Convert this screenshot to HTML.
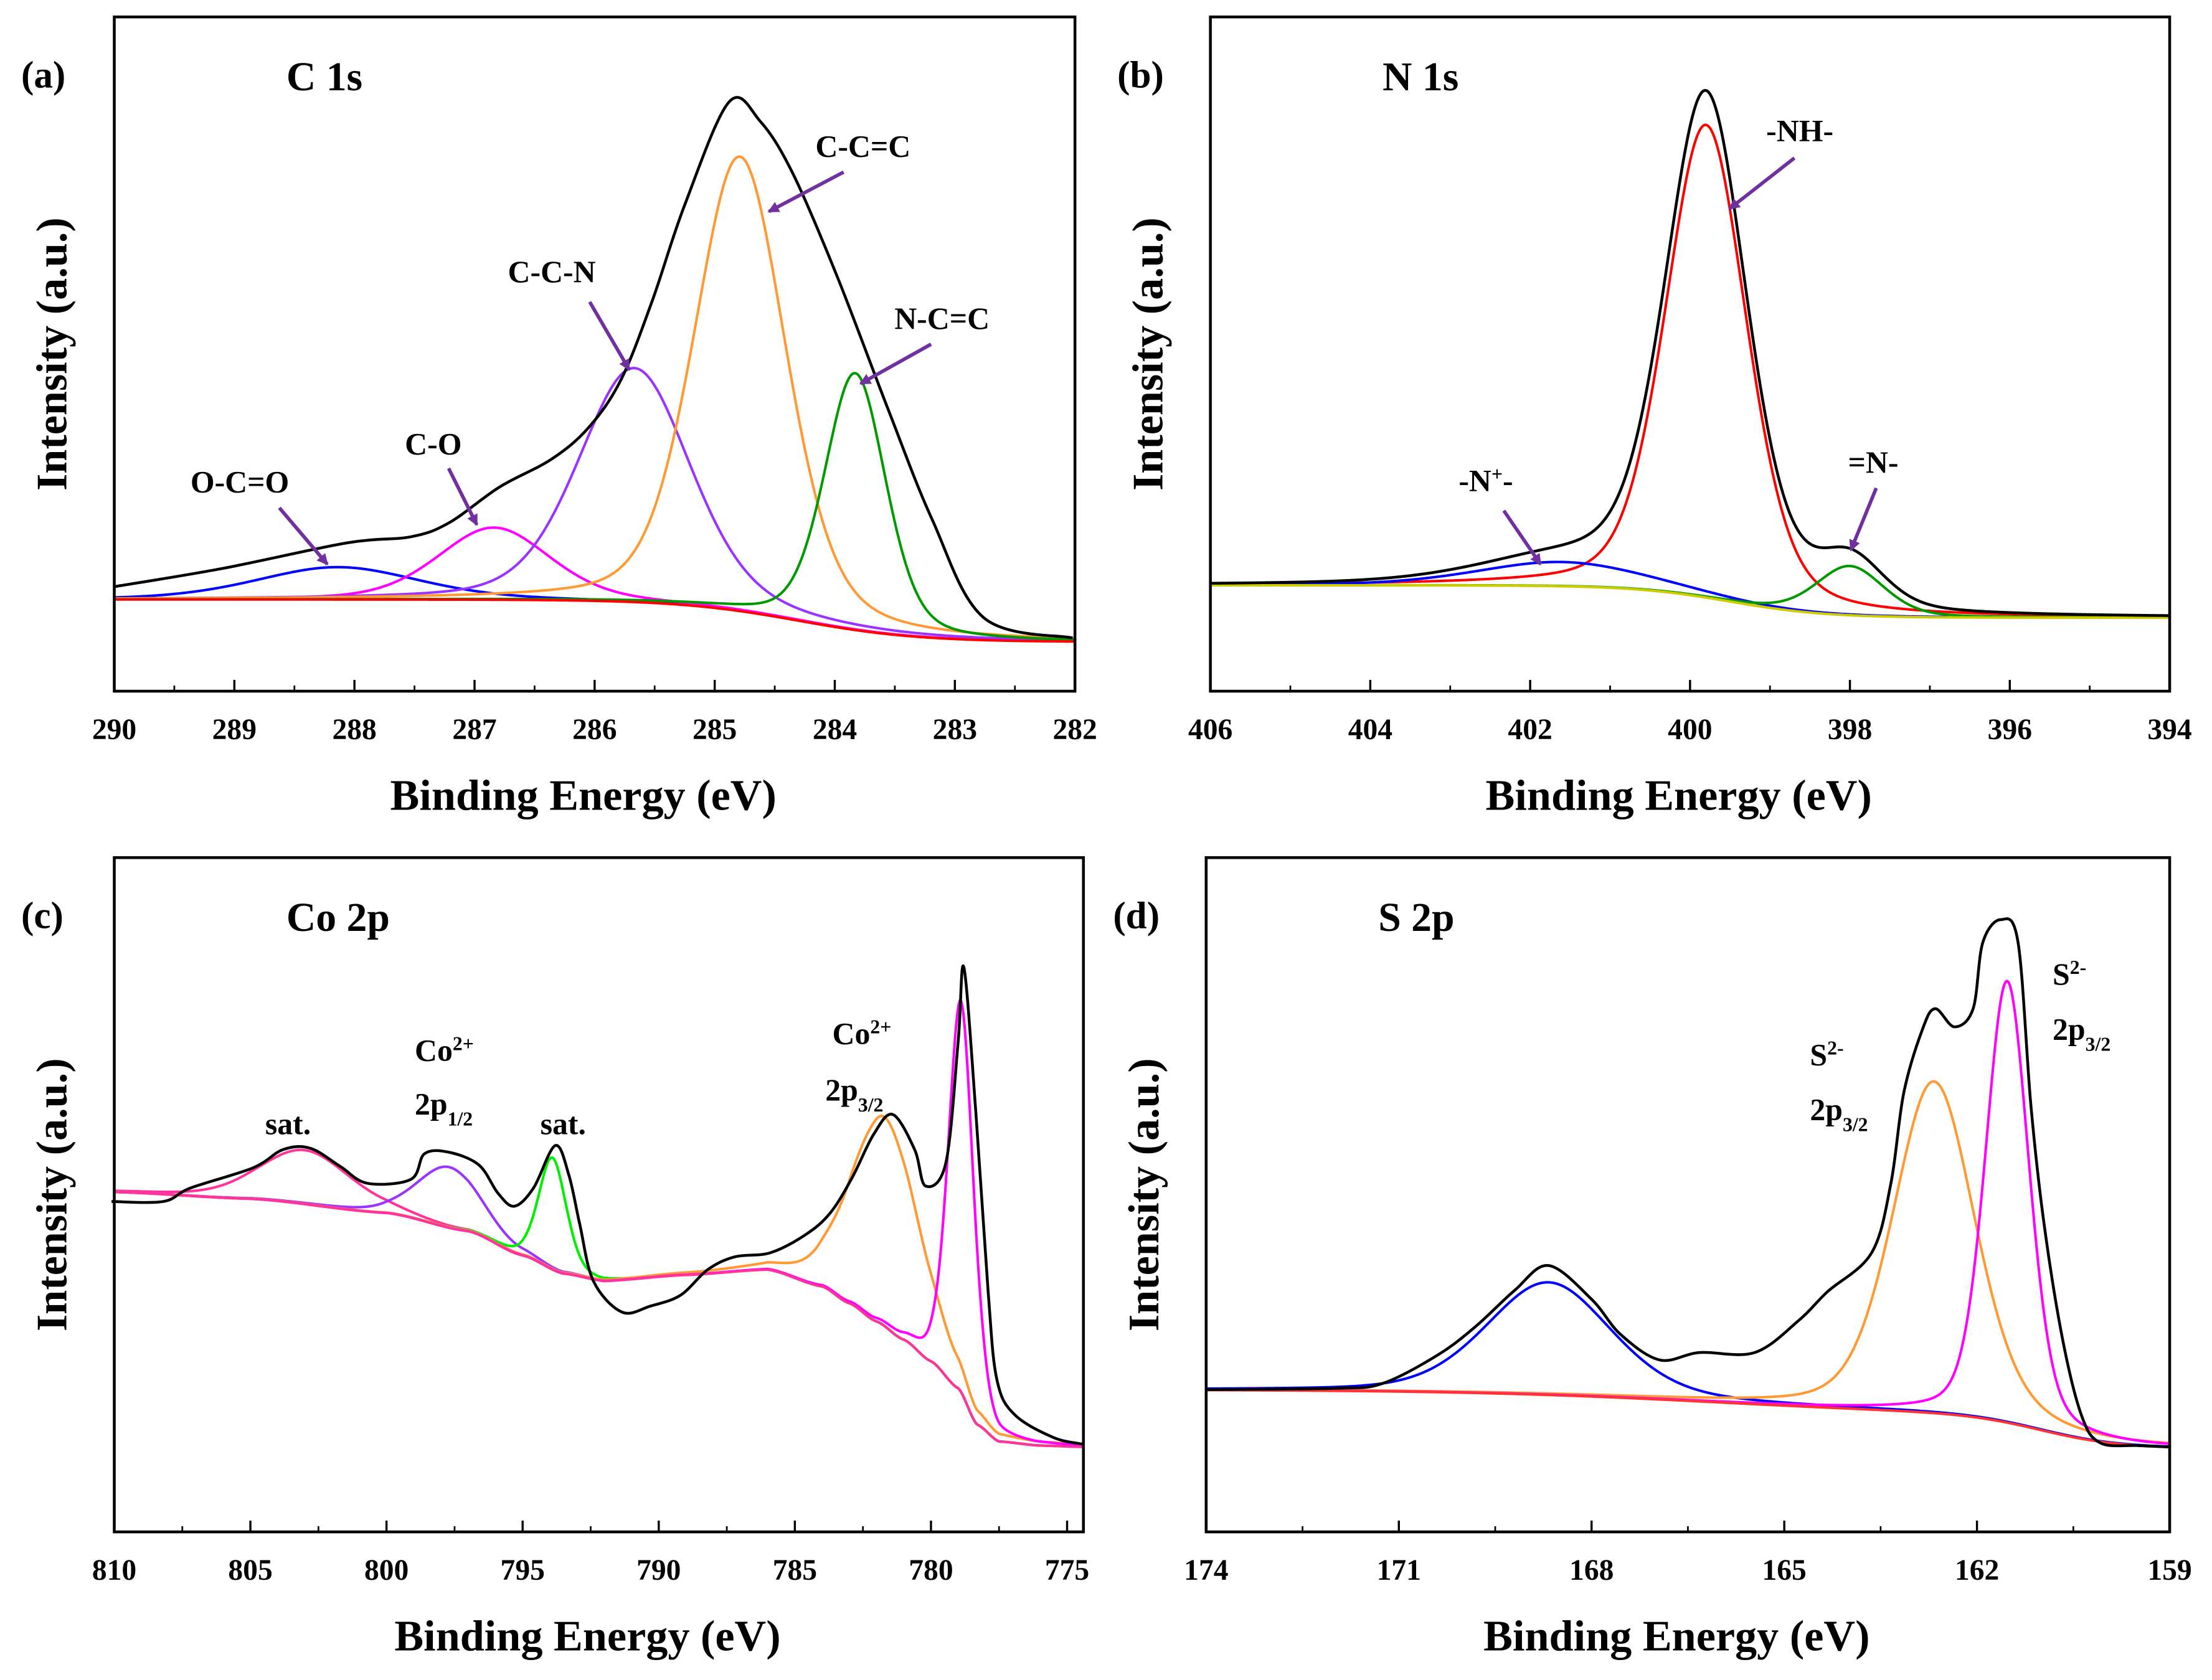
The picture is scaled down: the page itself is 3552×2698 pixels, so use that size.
<!DOCTYPE html>
<html><head><meta charset="utf-8"><style>
html,body{margin:0;padding:0;background:#fff;}
svg{display:block;font-family:"Liberation Serif",serif;font-weight:bold;}
</style></head><body>
<svg id="fig" width="3552" height="2698" viewBox="0 0 1568 1191" xmlns="http://www.w3.org/2000/svg">
<defs><marker id="ah" markerWidth="8" markerHeight="8" refX="7" refY="4" orient="auto" markerUnits="userSpaceOnUse"><path d="M0,0 L8,4 L0,8 Z" fill="#7030a0"/></marker></defs>
</svg>
<script>
// ---- data (binding energies in eV, intensities in % of frame height) ----
const aCenters=[288.14,286.84,285.67,284.79,283.83];
const aHeights=[4.8,10.7,34.7,67.4,38.1];
const aWidths=[1.6,1.1,1.1,0.9,0.6];
const aColors=["#0000ff","#ff00ff","#9933ff","#ff9933","#009900"];
const aBg=[7.3, 6.3, 284.3, 0.5];
const aTicks=[290,289,288,287,286,285,284,283,282];
const aEnvX=[290,289.1,288.06,287.53,287.21,286.79,286.36,286.05,285.78,285.52,285.25,284.88,284.62,284.35,283.98,283.56,283.19,282.76,282.02];
const aEnvY=[15.5,18.2,22.0,22.9,25.0,30.3,34.4,39.1,46.2,57.9,72.1,87.4,84.5,76.8,61.5,42.0,25.5,10.9,7.9];

const bCenters=[399.8,401.6,398.0];
const bHeights=[70.1,3.6,7.3];
const bWidths=[1.2,2.5,1.0];
const bColors=["#ff0000","#0000ff","#009900"];
const bBg=[10.9,4.8,399.5,0.6];
const bTicks=[406,404,402,400,398,396,394];

const cCenters=[803.0,797.7,793.9,781.7,778.9];
const cHeights=[8,9,16.6,31,58];
const cWidths=[4,2.8,1.2,3,1.1];
const cColors=["#ff3399","#9933ff","#00ee00","#ff9933","#ff00ff"];
const cBgX=[810,805,800,797,795,793.5,792,789,786,784,783,782,781,780,779,778.3,777.5,776,774.4];
const cBgY=[50.4,49.4,47.3,44.6,41.0,38.3,37.2,38.1,38.9,36.4,33.9,31.2,28.5,25.3,21.3,15.9,13.4,12.8,12.6];
const cTicks=[810,805,800,795,790,785,780,775];
const cEnvX=[810.1,808.2,807.2,804.9,803.8,802.8,801.7,800.7,799.1,798.6,797.7,796.6,795.9,795.3,794.6,793.8,793.3,792.9,792.4,791.35,790.3,789.2,788.2,787.2,785.9,784.6,783.7,782.9,782.1,781.4,780.6,780.2,779.45,779.0,778.79,778.35,777.9,777.58,776.93,775.5,774.4];
const cEnvY=[49.0,49.0,51.0,54.0,56.7,56.9,54.2,51.7,52.3,56.1,56.3,54.4,50.2,48.3,51.0,57.3,52.9,45.6,37.2,32.6,33.5,35.1,38.9,40.8,41.4,44.1,47.3,52.5,59.0,61.9,56.7,51.3,54.8,72.8,83.7,62.1,35.6,22.6,17.4,14.0,13.0];

const dCenters=[168.67,162.67,161.53];
const dHeights=[16.7,49.2,65.5];
const dWidths=[2.3,1.5,0.8];
const dColors=["#0000ff","#ff9933","#ff00ff"];
const dBgSteps=[[161,5,0.6],[166,3.8,2]];
const dBgLo=12.3;
const dTicks=[174,171,168,165,162,159];
const dEnvX=[174,172,171.26,170.4,169.8,169.2,168.67,168,167.55,166.94,166.32,165.46,164.77,164.33,163.64,163.34,163.14,162.85,162.65,162.35,162.06,161.91,161.63,161.36,161.16,160.96,160.67,160.37,160.08,159.5,159];
const dEnvY=[21.1,21.3,22.0,26.2,30.5,35.8,39.5,34.5,29.3,25.5,26.6,26.6,31.4,35.6,41.4,51.7,65.1,74.5,77.6,74.9,77.6,87.4,90.8,87.4,63.2,46.0,28.7,17.2,13.2,12.8,12.6];

const NS="http://www.w3.org/2000/svg";
const svg=document.getElementById('fig');
function el(t,a,p){const e=document.createElementNS(NS,t);for(const k in a)e.setAttribute(k,a[k]);(p||svg).appendChild(e);return e;}
function pv(x,c,h,w){const u=(x-c)/w;return h*(0.7*Math.exp(-4*Math.LN2*u*u)+0.3/(1+4*u*u));}
function sig(z){return 1/(1+Math.exp(-z));}
function interp(xs,ys,x){
  for(let i=0;i<xs.length-1;i++){
    const a=xs[i],b=xs[i+1];
    if((x<=a&&x>=b)||(x>=a&&x<=b)){const t=(x-a)/(b-a);const s=t*t*(3-2*t);return ys[i]+(ys[i+1]-ys[i])*(0.5*t+0.5*s);}
  }
  return Math.abs(x-xs[0])<Math.abs(x-xs[xs.length-1])?ys[0]:ys[ys.length-1];
}

function panel(o){
  const g=el('g',{});
  
  
  const X=v=>o.L+(o.x0-v)/(o.x0-o.x1)*(o.R-o.L);
  const Y=v=>o.B-v/100*(o.B-o.T);
  const N=800;
  function path(fn,color,name,w){
    let d='';
    for(let i=0;i<=N;i++){const x=o.x0+(o.x1-o.x0)*i/N;d+=(i?'L':'M')+X(x).toFixed(2)+','+Y(fn(x)).toFixed(2);}
    const p=el('path',{d:d,fill:'none',stroke:color,'stroke-width':w||1.8,'stroke-linejoin':'round'},g);
    
    
  }
  o.centers.forEach((c,i)=>path(x=>o.bg(x)+pv(x,c,o.heights[i],o.widths[i]),o.colors[i],'fit-peak-'+i));
  path(o.bg,o.bgColor,'background-line');
  if(o.envX){
    const P=o.envX.map((x,i)=>[X(x),Y(o.envY[i])]);
    let d='M'+P[0][0].toFixed(2)+','+P[0][1].toFixed(2);
    for(let i=0;i<P.length-1;i++){
      const p0=P[Math.max(0,i-1)],p1=P[i],p2=P[i+1],p3=P[Math.min(P.length-1,i+2)];
      const c1=[p1[0]+(p2[0]-p0[0])/6,p1[1]+(p2[1]-p0[1])/6];
      const c2=[p2[0]-(p3[0]-p1[0])/6,p2[1]-(p3[1]-p1[1])/6];
      d+='C'+c1[0].toFixed(2)+','+c1[1].toFixed(2)+' '+c2[0].toFixed(2)+','+c2[1].toFixed(2)+' '+p2[0].toFixed(2)+','+p2[1].toFixed(2);
    }
    const e=el('path',{d:d,fill:'none',stroke:'#000','stroke-width':2,'stroke-linejoin':'round'},g);
    
    
  } else {
    path(x=>{let s=o.bg(x);o.centers.forEach((c,i)=>s+=pv(x,c,o.heights[i],o.widths[i]));return s+(o.extra?o.extra(x):0);},'#000','envelope-line',2);
  }
  const f=el('rect',{x:o.L,y:o.T,width:o.R-o.L,height:o.B-o.T,fill:'none',stroke:'#000','stroke-width':2},g);
  
  
  o.ticks.forEach((t,i)=>{
    el('line',{x1:X(t),x2:X(t),y1:o.B,y2:o.B-8,stroke:'#000','stroke-width':1.5},g);
    if(i<o.ticks.length-1){const m=(t+o.ticks[i+1])/2;el('line',{x1:X(m),x2:X(m),y1:o.B,y2:o.B-4,stroke:'#000','stroke-width':1.2},g);}
    const tx=el('text',{x:X(t),y:o.B+34,'font-size':21,'text-anchor':'middle'},g);
    tx.textContent=t;
    
    
  });
  const xl=el('text',{x:(o.L+o.R)/2-8,y:o.B+84,'font-size':31,'text-anchor':'middle'},g);
  xl.textContent='Binding Energy (eV)';
  
  
  const yl=el('text',{x:0,y:0,'font-size':31,'text-anchor':'middle',transform:'translate('+(o.L-34)+','+((o.T+o.B)/2)+') rotate(-90)'},g);
  yl.textContent='Intensity (a.u.)';
  
  
  const pl=el('text',{x:o.L-66,y:o.T+50,'font-size':27},g);
  pl.textContent='('+o.id+')';
  
  
  const ti=el('text',{x:o.L+122,y:o.T+52,'font-size':29},g);
  ti.textContent=o.title;
  
  
  return g;
}
function label(g,x,y,html,name,size){
  const t=el('text',{x:x,y:y,'font-size':size||22},g);
  t.innerHTML=html;
  
  
}
function arrow(g,x1,y1,x2,y2){
  const a=el('line',{x1:x1,y1:y1,x2:x2,y2:y2,stroke:'#7030a0','stroke-width':2.5,'marker-end':'url(#ah)'},g);
  
  
}

const ga=panel({id:'a',title:'C 1s',L:81,R:762,T:12,B:490,x0:290,x1:282,centers:aCenters,heights:aHeights,widths:aWidths,colors:aColors,ticks:aTicks,bgColor:'#ff0000',
  bg:x=>aBg[0]+aBg[1]*sig((x-aBg[2])/aBg[3]),envX:aEnvX,envY:aEnvY});
label(ga,135,349,'O-C=O','label-ocoo');
label(ga,287,322,'C-O','label-co');
label(ga,360,200,'C-C-N','label-ccn');
label(ga,578,111,'C-C=C','label-ccc');
label(ga,634,233,'N-C=C','label-ncc');
arrow(ga,198,360,232,400);arrow(ga,318,332,338,372);arrow(ga,418,214,446,262);arrow(ga,598,122,545,150);arrow(ga,660,244,610,272);

const gb=panel({id:'b',title:'N 1s',L:858,R:1538,T:12,B:490,x0:406,x1:394,centers:bCenters,heights:bHeights,widths:bWidths,colors:bColors,ticks:bTicks,bgColor:'#cccc00',
  bg:x=>bBg[0]+bBg[1]*sig((x-bBg[2])/bBg[3]),extra:x=>pv(x,399.8,4,1.6)});
label(gb,1252,100,'-NH-','label-nh');
label(gb,1034,348,'-N<tspan baseline-shift="super" font-size="14">+</tspan>-','label-nplus');
label(gb,1310,335,'=N-','label-n');
arrow(gb,1272,112,1226,148);arrow(gb,1066,362,1092,400);arrow(gb,1330,346,1312,390);

const gc=panel({id:'c',title:'Co 2p',L:81,R:768,T:608,B:1086,x0:810,x1:774.4,centers:cCenters,heights:cHeights,widths:cWidths,colors:cColors,ticks:cTicks,bgColor:'#ff3399',
  bg:x=>interp(cBgX,cBgY,x),envX:cEnvX,envY:cEnvY});
label(gc,188,804,'sat.','label-sat1');
label(gc,294,752,'Co<tspan baseline-shift="super" font-size="14">2+</tspan>','label-co2-a');
label(gc,294,790,'2p<tspan baseline-shift="sub" font-size="14">1/2</tspan>','label-2p12');
label(gc,383,804,'sat.','label-sat2');
label(gc,590,740,'Co<tspan baseline-shift="super" font-size="14">2+</tspan>','label-co2-b');
label(gc,585,780,'2p<tspan baseline-shift="sub" font-size="14">3/2</tspan>','label-2p32-co');

const gd=panel({id:'d',title:'S 2p',L:855,R:1538,T:608,B:1086,x0:174,x1:159,centers:dCenters,heights:dHeights,widths:dWidths,colors:dColors,ticks:dTicks,bgColor:'#ff3333',
  bg:x=>dBgLo+dBgSteps.reduce((s,p)=>s+p[1]*sig((x-p[0])/p[2]),0),envX:dEnvX,envY:dEnvY});
label(gd,1283,755,'S<tspan baseline-shift="super" font-size="14">2-</tspan>','label-s2-a');
label(gd,1283,794,'2p<tspan baseline-shift="sub" font-size="14">3/2</tspan>','label-2p32-a');
label(gd,1455,698,'S<tspan baseline-shift="super" font-size="14">2-</tspan>','label-s2-b');
label(gd,1455,737,'2p<tspan baseline-shift="sub" font-size="14">3/2</tspan>','label-2p32-b');
</script>
</body></html>
